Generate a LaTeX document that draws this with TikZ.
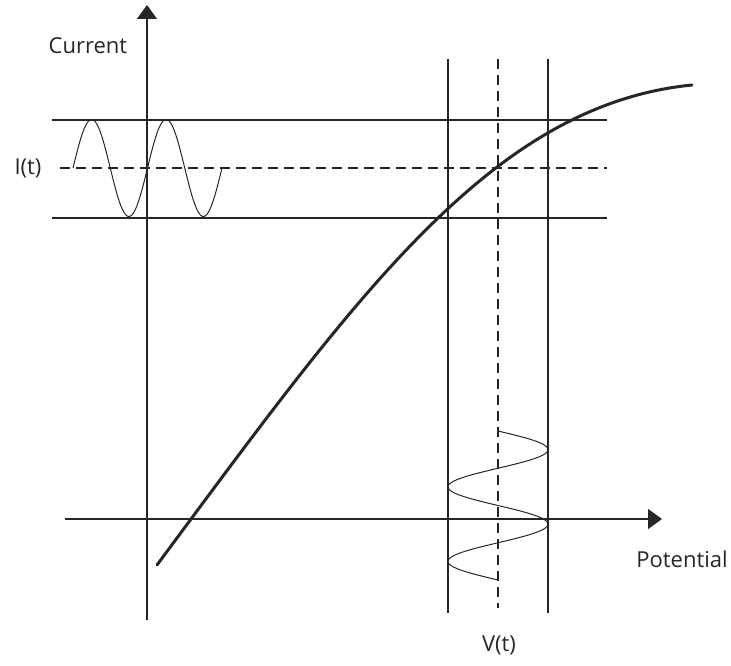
\documentclass[tikz,border=0pt]{standalone}
\usepackage{fontspec}
\setmainfont{Open Sans}
\usetikzlibrary{arrows.meta}

\tikzset{
  axis/.style={line width=1.3pt,-{Triangle[width=20pt,length=14pt]}},
  guide/.style={line width=1.3pt},
  guidedash/.style={line width=1.3pt,dash pattern=on 10pt off 6pt},
  wave/.style={line width=1pt,smooth},
  label/.style={font=\fontsize{22}{26}\selectfont,text=black!85}
}

\begin{document}
\begin{tikzpicture}[x=1pt,y=-1pt,color=black!85]
\useasboundingbox (0,0) rectangle (731,666);

\coordinate (ybot) at (147,620);
\coordinate (ytop) at (147,5);
\coordinate (xleft) at (65,519);
\coordinate (xright) at (662,519);
\draw[axis] (ybot) -- (ytop);
\draw[axis] (xleft) -- (xright);

% current window
\draw[guide] (52,120) -- (607,120);
\draw[guidedash] (60,168) -- (607,168);
\draw[guide] (52,218) -- (607,218);

% potential window
\draw[guide] (448,59) -- (448,613);
\draw[guidedash] (498,59) -- (498,608);
\draw[guide] (548,59) -- (548,613);

\draw[line width=3pt,line cap=round] (157,565) .. controls (357,295) and (492,105) .. (692,85);

\draw[wave] plot[domain=0:720,samples=120] ({73+\x/360*74.5},{168-48.5*sin(\x)});
\draw[wave] plot[domain=0:720,samples=120] ({498+50*sin(\x)},{431+\x/360*74.5});

\node[label] (current) at (88,46) {Current};
\node[label] (it) at (28,168) {I(t)};
\node[label] (potential) at (682,559) {Potential};
\node[label] (vt) at (499,645) {V(t)};
\end{tikzpicture}
\end{document}
